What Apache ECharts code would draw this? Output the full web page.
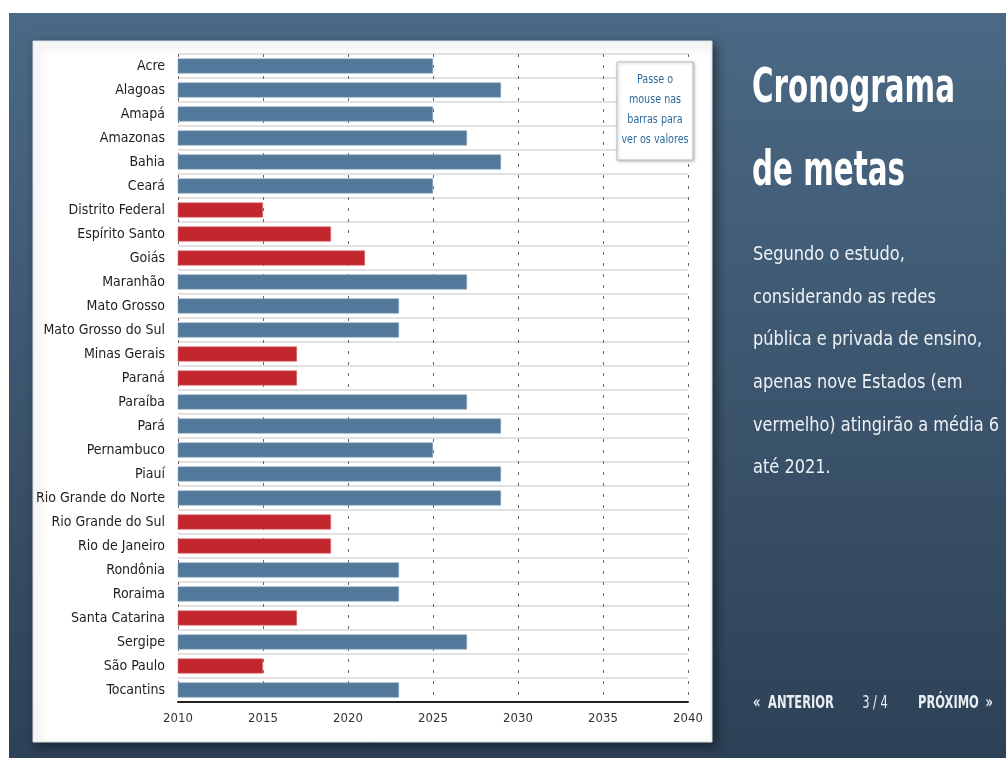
<!DOCTYPE html>
<html>
<head>
<meta charset="utf-8">
<script src="https://cdn.jsdelivr.net/npm/echarts@6/dist/echarts.min.js"></script>
<style>
html,body{margin:0;padding:0;background:#fff;}
#chart{width:1006px;height:758px;}
</style>
</head>
<body>
<div id="chart"></div>
<script>
var estados = ['Acre','Alagoas','Amapá','Amazonas','Bahia','Ceará','Distrito Federal','Espírito Santo','Goiás','Maranhão','Mato Grosso','Mato Grosso do Sul','Minas Gerais','Paraná','Paraíba','Pará','Pernambuco','Piauí','Rio Grande do Norte','Rio Grande do Sul','Rio de Janeiro','Rondônia','Roraima','Santa Catarina','Sergipe','São Paulo','Tocantins'];
var anoMeta = [2025,2029,2025,2027,2029,2025,2015,2019,2021,2027,2023,2023,2017,2017,2027,2029,2025,2029,2029,2019,2019,2023,2023,2017,2027,2015,2023];
var vermelho = [false,false,false,false,false,false,true,true,true,false,false,false,true,true,false,false,false,false,false,true,true,false,false,true,false,true,false];
var eixoAnos = [2010,2015,2020,2025,2030,2035,2040];
var titulo = ['Cronograma','de metas'];
var texto = ['Segundo o estudo,','considerando as redes','pública e privada de ensino,','apenas nove Estados (em','vermelho) atingirão a média 6','até 2021.'];
var dica = ['Passe o','mouse nas','barras para','ver os valores'];

var FONT = '"DejaVu Sans Condensed","DejaVu Sans",sans-serif';
var AZUL = '#52789b', VERMELHO = '#c1272d';

var chart = echarts.init(document.getElementById('chart'), null, {renderer:'canvas'});

var graphics = [
  {type:'rect', z:-10, shape:{x:9,y:13,width:997,height:745},
   style:{fill:new echarts.graphic.LinearGradient(0,0,0,1,[{offset:0,color:'#4b6985'},{offset:1,color:'#2d4156'}])}},
  {type:'rect', z:-9, shape:{x:33,y:41,width:679,height:701},
   style:{fill:'#ffffff', stroke:'#d8dde2', lineWidth:1, shadowBlur:10, shadowOffsetX:4, shadowOffsetY:4, shadowColor:'rgba(0,0,0,0.45)'}},
  {type:'rect', z:10, shape:{x:617,y:62,width:76,height:98},
   style:{fill:'#ffffff', stroke:'#b9bec4', lineWidth:1, shadowBlur:3, shadowOffsetX:1, shadowOffsetY:1, shadowColor:'rgba(0,0,0,0.25)'}}
];
dica.forEach(function(t,i){
  graphics.push({type:'text', z:11, x:655, y:80+i*20, scaleX:0.82,
    style:{text:t, fill:'#2e6a9c', font:'13px '+FONT, textAlign:'center', textVerticalAlign:'middle'}});
});
titulo.forEach(function(t,i){
  graphics.push({type:'text', z:11, x:752, y:90+i*83, scaleX:0.68,
    style:{text:t, fill:'#ffffff', font:'bold 48px '+FONT, textAlign:'left', textVerticalAlign:'middle'}});
});
texto.forEach(function(t,i){
  graphics.push({type:'text', z:11, x:753, y:255+i*42.6, scaleX:0.9,
    style:{text:t, fill:'#eef2f5', font:'20px '+FONT, textAlign:'left', textVerticalAlign:'middle'}});
});
var nav = [['«',753,'left'],['ANTERIOR',768,'left'],['3 / 4',875,'center'],['PRÓXIMO',918,'left'],['»',993,'right']];
nav.forEach(function(n){
  var bold = (n[0]==='3 / 4') ? '' : 'bold ';
  graphics.push({type:'text', z:11, x:n[1], y:704, scaleX:0.75,
    style:{text:n[0], fill:'#e9eef2', font:bold+'17px '+FONT, textAlign:n[2], textVerticalAlign:'middle'}});
});

var option = {
  animation:false,
  backgroundColor:'transparent',
  graphic: graphics,
  grid:{left:178, right:318, top:54, height:648, containLabel:false},
  xAxis:{
    type:'value', min:eixoAnos[0], max:eixoAnos[eixoAnos.length-1], interval:5,
    axisLine:{show:true, onZero:false, lineStyle:{color:'#222', width:2}},
    axisTick:{show:false},
    axisLabel:{color:'#333', fontFamily:FONT, fontSize:13, margin:10,
      formatter:function(v){return String(v);}},
    splitLine:{show:true, lineStyle:{color:'#666', type:[3,8], width:1}}
  },
  yAxis:{
    type:'category', data:estados, inverse:true,
    axisLine:{show:false}, axisTick:{show:false},
    axisLabel:{color:'#1e1e1e', fontFamily:FONT, fontSize:14, margin:13},
    splitLine:{show:true, lineStyle:{color:'#e2e2e2', width:2}}
  },
  series:[{
    type:'bar', barWidth:15, z:3,
    data: anoMeta.map(function(v,i){
      return {value:v, itemStyle:{color: vermelho[i] ? VERMELHO : AZUL,
        borderColor: vermelho[i] ? '#d86a6e' : '#8aa3bb', borderWidth:0.6}};
    })
  }]
};
chart.setOption(option);
</script>
</body>
</html>
